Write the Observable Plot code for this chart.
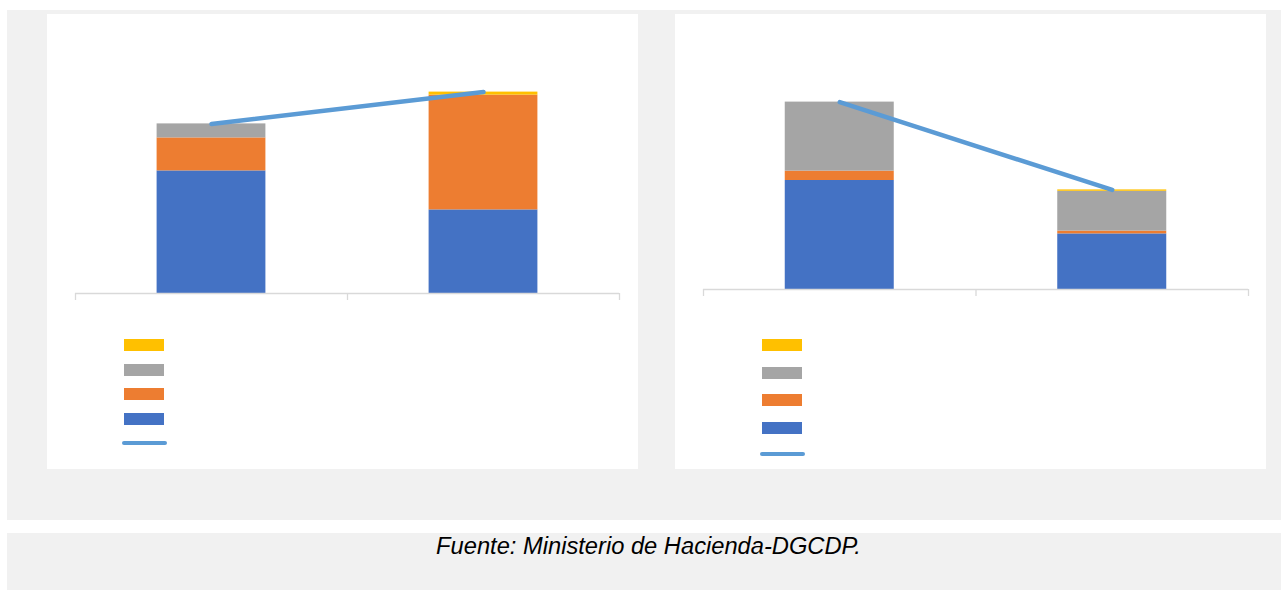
<!DOCTYPE html>
<html>
<head>
<meta charset="utf-8">
<script src="https://cdn.jsdelivr.net/npm/d3@7"></script>
<script src="https://cdn.jsdelivr.net/npm/@observablehq/plot@0.6"></script>
<style>
  html, body { margin: 0; padding: 0; }
  body { width: 1283px; height: 590px; overflow: hidden; position: relative; background: #fff; font-family: "Liberation Sans", Arial, sans-serif; }
  .bg { position: absolute; background: #f1f1f1; }
  .panel { position: absolute; top: 14px; width: 591px; height: 455px; background: #fff; }
  .panel svg { position: absolute; left: 0; top: 0; }
  .sw { position: absolute; width: 40px; height: 12px; }
  .ln { position: absolute; width: 45px; height: 4px; border-radius: 2px; }
  #caption { position: absolute; left: 7px; width: 1283px; top: 533px; text-align: center; font-style: italic; font-size: 23.7px; line-height: 27px; color: #000; }
</style>
</head>
<body>
<div class="bg" style="left:7px;top:10px;width:1274px;height:510px"></div>
<div id="left" class="panel" style="left:47px"></div>
<div id="right" class="panel" style="left:675px"></div>
<div class="bg" style="left:7px;top:533px;width:1274px;height:57px"></div>
<div id="caption">Fuente: Ministerio de Hacienda-DGCDP.</div>
<script>
// Categories (two periods; labels not visible in the reference)
const categories = [0, 1];

// Stack order bottom -> top
const seriesColors = ["#4472c4", "#ed7d31", "#a5a5a5", "#ffc000"];
const lineColor = "#5b9bd5";

// Left panel values
const leftBlue   = [6.13, 4.18];
const leftOrange = [1.65, 5.74];
const leftGray   = [0.70, 0.00];
const leftYellow = [0.00, 0.15];
const leftLine   = [8.48, 10.07];

// Right panel values
const rightBlue   = [5.45, 2.78];
const rightOrange = [0.47, 0.14];
const rightGray   = [3.45, 1.99];
const rightYellow = [0.00, 0.07];
const rightLine   = [9.37, 4.98];

function stackRows(seriesList) {
  const rows = [];
  categories.forEach((c, i) => {
    let acc = 0;
    seriesList.forEach((vals, s) => {
      rows.push({cat: c, y1: acc, y2: acc + vals[i], fill: seriesColors[s]});
      acc += vals[i];
    });
  });
  return rows;
}

function drawPanel(el, seriesList, lineVals, m, legend) {
  const rows = stackRows(seriesList);
  const lineRows = categories.map((c, i) => ({cat: c, v: lineVals[i]}));
  const half = 0.2; // bar half-width as a fraction of a category band
  const svg = Plot.plot({
    width: 591,
    height: 300,
    marginLeft: m.left, marginRight: m.right, marginTop: m.top, marginBottom: m.bottom,
    x: {domain: [0, categories.length]},
    y: {domain: [0, 10], axis: null},
    marks: [
      Plot.rect(rows, {x1: d => d.cat + 0.5 - half, x2: d => d.cat + 0.5 + half, y1: "y1", y2: "y2", fill: "fill"}),
      Plot.ruleY([0], {stroke: "#d9d9d9", strokeWidth: 1.3}),
      Plot.axisX({ticks: d3.range(categories.length + 1), tickSize: 7, tickFormat: () => "", stroke: "#d9d9d9", strokeWidth: 1.3}),
      Plot.line(lineRows, {x: d => d.cat + 0.5, y: "v", stroke: lineColor, strokeWidth: 4.5, strokeLinecap: "round"})
    ]
  });
  el.appendChild(svg);
  // Legend (swatches only, as in reference)
  const order = [3, 2, 1, 0];
  order.forEach((s, k) => {
    const d = document.createElement("div");
    d.className = "sw";
    d.style.left = legend.x + "px";
    d.style.top = (legend.y + k * legend.step) + "px";
    d.style.background = seriesColors[s];
    el.appendChild(d);
  });
  const l = document.createElement("div");
  l.className = "ln";
  l.style.left = (legend.x - 2.5) + "px";
  l.style.top = (legend.y + 4 * legend.step + 3) + "px";
  l.style.background = lineColor;
  el.appendChild(l);
}

drawPanel(document.getElementById("left"),
  [leftBlue, leftOrange, leftGray, leftYellow], leftLine,
  {left: 28, right: 19, top: 79, bottom: 21},
  {x: 77, y: 325, step: 24.7});

drawPanel(document.getElementById("right"),
  [rightBlue, rightOrange, rightGray, rightYellow], rightLine,
  {left: 28, right: 18, top: 75, bottom: 25},
  {x: 87, y: 325, step: 27.6});
</script>
</body>
</html>
